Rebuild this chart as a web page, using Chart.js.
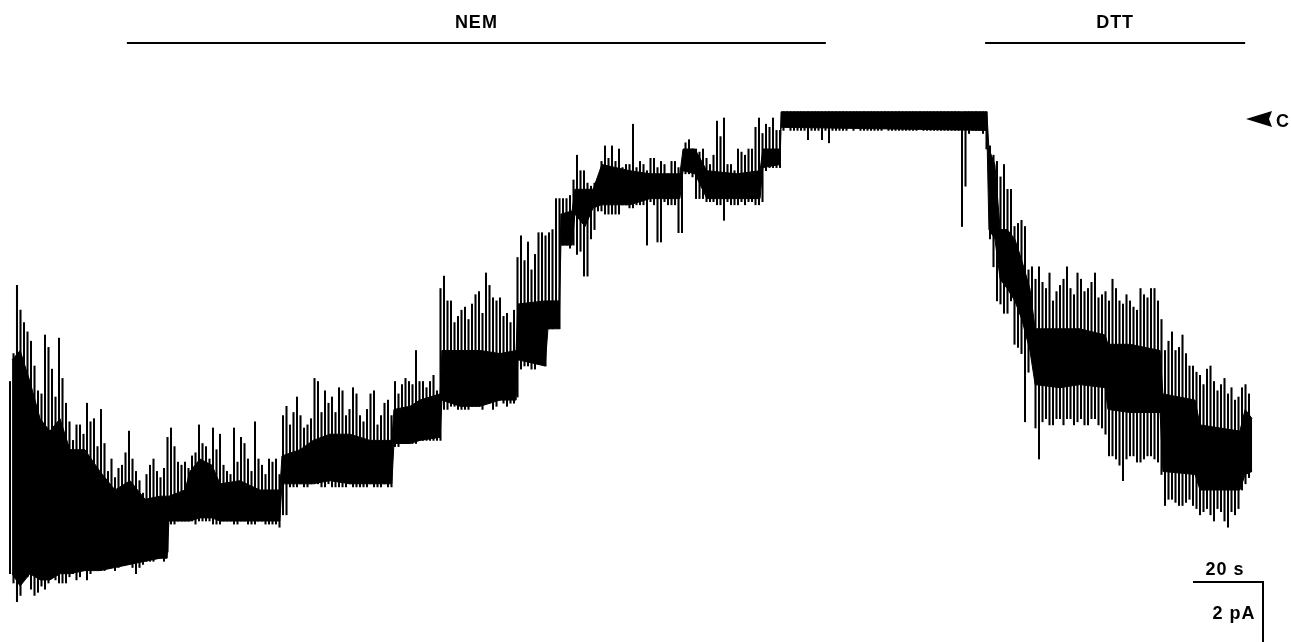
<!DOCTYPE html>
<html>
<head>
<meta charset="utf-8">
<script src="https://cdn.jsdelivr.net/npm/chart.js@4.4.0/dist/chart.umd.min.js"></script>
<style>
  html, body { margin: 0; padding: 0; background: #fff; }
  #wrap { width: 1291px; height: 642px; position: relative; }
</style>
</head>
<body>
<div id="wrap"><canvas id="myChart"></canvas></div>
<script>
// envelope of the current trace, one sample per second (pA, closed level = 0)
const sampleStep = 1;
const traceHigh = [
  -8.5, -7.6, -5.4, -6.2, -6.6, -6.9, -7.2, -8.0, -8.8, -8.9,
  -7.0, -7.4, -8.1, -9.0, -7.1, -8.4, -9.2, -9.8, -10.4, -9.9,
  -9.9, -10.2, -9.2, -9.8, -9.7, -10.6, -9.4, -10.5, -11.4, -11.0,
  -11.6, -11.3, -11.2, -10.8, -10.1, -11.0, -11.4, -11.7, -12.1, -11.5,
  -11.2, -11.0, -11.4, -11.6, -11.3, -10.3, -10.0, -10.6, -11.1, -11.2,
  -11.1, -11.3, -10.9, -10.8, -9.9, -10.5, -10.6, -11.0, -10.0, -10.7,
  -10.2, -11.2, -11.4, -11.5, -10.0, -11.1, -10.3, -10.5, -11.0, -11.4,
  -9.8, -11.0, -11.2, -11.5, -11.0, -11.1, -11.0, -11.5, -9.6, -9.3,
  -9.9, -9.5, -9.0, -9.6, -10.0, -9.9, -9.7, -8.4, -8.5, -9.5,
  -8.8, -9.2, -9.0, -9.5, -8.7, -8.8, -9.6, -9.4, -8.7, -8.9,
  -9.6, -9.8, -9.4, -8.9, -8.8, -9.9, -9.6, -9.2, -9.1, -9.6,
  -8.5, -8.9, -8.6, -8.4, -8.5, -8.6, -7.5, -8.5, -8.5, -8.7,
  -8.5, -8.3, -8.8, -5.5, -5.1, -5.9, -5.9, -6.6, -6.4, -6.2,
  -6.1, -6.5, -6.0, -5.7, -5.6, -6.3, -5.0, -5.4, -5.8, -5.9,
  -5.8, -6.4, -6.3, -6.6, -6.2, -4.5, -3.8, -4.6, -4.0, -4.9,
  -4.4, -3.7, -3.7, -3.8, -3.7, -3.6, -2.6, -2.6, -2.6, -2.6,
  -2.5, -2.0, -1.2, -1.7, -1.7, -2.1, -2.2, -2.1, -2.2, -1.4,
  -0.9, -1.3, -0.9, -1.4, -1.0, -1.6, -1.5, -1.5, -0.2, -1.6,
  -1.4, -1.5, -1.7, -1.3, -1.3, -1.6, -1.4, -1.5, -1.8, -1.4,
  -1.4, -1.6, -1.5, -0.8, -0.7, -1.0, -1.0, -1.1, -1.0, -1.3,
  -1.5, -1.2, -0.1, -0.6, 0.0, -1.5, -1.5, -1.7, -1.0, -1.1,
  -1.2, -1.0, -1.0, -0.3, 0.0, -0.5, -0.2, -0.3, 0.0, -0.4,
  -0.4, 0.2, 0.2, 0.2, 0.2, 0.2, 0.2, 0.2, 0.2, 0.2,
  0.2, 0.2, 0.2, 0.2, 0.2, 0.2, 0.2, 0.2, 0.2, 0.2,
  0.2, 0.2, 0.2, 0.2, 0.2, 0.2, 0.2, 0.2, 0.2, 0.2,
  0.2, 0.2, 0.2, 0.2, 0.2, 0.2, 0.2, 0.2, 0.2, 0.2,
  0.2, 0.2, 0.2, 0.2, 0.2, 0.2, 0.2, 0.2, 0.2, 0.2,
  0.2, 0.2, 0.1, 0.2, 0.2, 0.2, 0.2, 0.2, 0.2, 0.2,
  -0.9, -1.2, -1.4, -1.9, -1.5, -2.3, -2.3, -3.5, -3.4, -3.3,
  -3.5, -4.9, -4.8, -5.2, -4.8, -5.3, -5.5, -5.0, -5.9, -5.6,
  -5.4, -5.2, -4.8, -5.5, -5.7, -5.0, -5.2, -5.6, -5.5, -5.3,
  -5.0, -5.8, -5.7, -5.6, -5.9, -5.2, -5.5, -5.9, -6.0, -5.7,
  -5.9, -6.1, -6.2, -5.5, -5.7, -5.8, -5.5, -5.5, -5.9, -6.5,
  -7.5, -7.2, -6.9, -7.5, -7.4, -7.0, -7.6, -8.0, -8.0, -8.2,
  -8.3, -8.6, -8.1, -8.0, -8.5, -8.8, -8.6, -8.4, -8.9, -8.7,
  -9.1, -9.0, -8.7, -8.6, -8.9
];
const traceLow = [
  -14.7, -15.0, -15.6, -15.4, -14.3, -14.8, -15.2, -15.4, -15.3, -15.1,
  -15.2, -15.0, -14.7, -14.9, -15.0, -15.0, -15.0, -14.8, -14.7, -14.9,
  -14.8, -14.6, -14.9, -14.7, -14.4, -14.5, -14.6, -14.6, -14.3, -14.4,
  -14.6, -14.5, -14.4, -14.3, -14.3, -14.5, -14.7, -14.5, -14.4, -14.3,
  -14.3, -14.3, -14.2, -14.2, -14.3, -14.0, -13.1, -13.1, -13.0, -13.0,
  -13.0, -13.0, -13.0, -13.1, -13.0, -13.0, -13.0, -13.0, -13.1, -13.1,
  -13.1, -13.0, -13.0, -13.0, -13.1, -13.1, -13.0, -13.0, -13.1, -13.1,
  -13.1, -13.0, -13.0, -13.1, -13.1, -13.1, -13.1, -13.2, -12.8, -12.8,
  -11.9, -11.9, -11.9, -11.8, -11.9, -11.9, -11.8, -11.8, -11.8, -11.9,
  -11.9, -11.8, -11.9, -11.9, -11.9, -11.9, -11.9, -11.8, -11.9, -11.9,
  -11.9, -11.9, -11.9, -11.8, -11.9, -11.9, -11.9, -11.8, -11.9, -11.9,
  -10.6, -10.6, -10.5, -10.5, -10.5, -10.5, -10.5, -10.4, -10.4, -10.4,
  -10.4, -10.4, -10.4, -10.4, -9.4, -9.4, -9.3, -9.3, -9.4, -9.4,
  -9.4, -9.4, -9.3, -9.3, -9.3, -9.4, -9.1, -9.2, -9.4, -9.3,
  -9.1, -9.2, -9.3, -9.2, -9.2, -9.0, -8.1, -8.0, -8.0, -8.1,
  -8.1, -7.9, -7.8, -8.0, -6.8, -6.8, -5.9, -6.8, -4.1, -4.1,
  -4.2, -4.1, -4.4, -4.3, -5.1, -5.1, -3.9, -3.6, -3.0, -3.0,
  -3.1, -3.1, -3.1, -3.1, -3.1, -2.8, -2.8, -2.9, -2.9, -2.8,
  -2.8, -2.8, -4.1, -2.7, -2.8, -4.0, -4.0, -2.7, -2.8, -2.8,
  -2.8, -3.7, -3.7, -1.8, -1.8, -1.9, -2.6, -2.6, -2.6, -2.7,
  -2.7, -2.7, -2.8, -2.8, -3.3, -2.7, -2.8, -2.8, -2.8, -2.7,
  -2.8, -2.7, -2.7, -2.8, -2.8, -2.7, -1.7, -1.6, -1.6, -1.6,
  -1.6, -0.4, -0.3, -0.4, -0.4, -0.4, -0.4, -0.4, -0.7, -0.4,
  -0.4, -0.4, -0.7, -0.4, -0.8, -0.4, -0.4, -0.4, -0.4, -0.4,
  -0.3, -0.4, -0.3, -0.4, -0.4, -0.4, -0.4, -0.4, -0.4, -0.4,
  -0.3, -0.4, -0.4, -0.4, -0.4, -0.4, -0.4, -0.4, -0.4, -0.4,
  -0.3, -0.4, -0.4, -0.4, -0.4, -0.4, -0.4, -0.4, -0.4, -0.4,
  -0.4, -0.4, -3.5, -2.2, -0.5, -0.4, -0.4, -0.4, -0.5, -1.0,
  -3.9, -4.8, -5.9, -6.0, -6.3, -6.3, -5.9, -7.3, -7.4, -7.6,
  -9.8, -8.2, -7.6, -10.0, -11.0, -9.8, -9.7, -9.9, -9.9, -9.7,
  -9.7, -9.9, -9.7, -9.7, -9.9, -9.8, -9.7, -9.9, -9.9, -9.7,
  -9.7, -9.9, -10.0, -10.2, -10.9, -10.9, -11.0, -11.2, -11.7, -11.0,
  -10.9, -10.9, -11.1, -11.1, -11.0, -10.9, -10.9, -11.0, -11.1, -11.5,
  -12.5, -12.3, -12.3, -12.4, -12.5, -12.5, -12.4, -12.3, -12.5, -12.6,
  -12.8, -12.7, -12.6, -12.8, -13.0, -12.6, -12.7, -13.0, -13.2, -12.7,
  -12.8, -12.6, -12.0, -11.8, -11.6
];

// dense flicker band of the trace (s, pA)
const coreTime = [
  0.6, 2.9, 5.7, 8.6, 11.4, 14.3, 17.1, 21.4, 25.7, 30,
  34.3, 38.6, 42.9, 44.9, 45.4, 50, 51.4, 54.3, 57.7, 60,
  65.7, 71.4, 77.1, 77.7, 82.9, 86.6, 91.4, 97.1, 102.9, 109.1,
  109.7, 114.3, 117.1, 122.9, 123.4, 128.6, 134.3, 140, 144.6, 145.1,
  152.9, 153.7, 156.9, 157.4, 160.6, 161.4, 164.3, 166.6, 169.1, 177.1,
  182.9, 191.4, 192.3, 195.7, 199.1, 207.7, 214.3, 215.1, 220, 220.3,
  279.1, 279.7, 281.4, 282.9, 284.9, 287.1, 289.1, 291.4, 292.9, 300,
  305.7, 312.9, 313.7, 320, 328.6, 329.4, 338.6, 340, 351.4, 352.9,
  354.9
];
const coreTop = [
  -7.8, -7.5, -8.5, -9.7, -10.1, -9.7, -10.7, -10.7, -11.4, -12.0,
  -11.7, -12.3, -12.2, -12.2, -12.2, -12.0, -11.4, -11.0, -11.2, -11.8,
  -11.7, -12.0, -12.0, -10.9, -10.7, -10.4, -10.2, -10.2, -10.4, -10.4,
  -9.4, -9.3, -9.1, -8.9, -7.5, -7.5, -7.5, -7.6, -7.5, -6.0,
  -5.9, -5.9, -5.9, -3.1, -3.0, -2.3, -2.3, -2.3, -1.5, -1.7,
  -1.8, -1.8, -1.0, -1.0, -1.7, -1.8, -1.7, -1.0, -1.0, 0.2,
  0.2, -1.0, -1.5, -3.6, -3.6, -3.9, -4.6, -5.5, -6.8, -6.8,
  -6.8, -7.0, -7.3, -7.3, -7.5, -8.9, -9.1, -9.9, -10.1, -9.4,
  -9.7
];
const coreBottom = [
  -14.7, -15.1, -14.7, -14.9, -14.9, -14.7, -14.7, -14.6, -14.6, -14.5,
  -14.4, -14.3, -14.2, -14.2, -13.0, -13.0, -13.0, -12.9, -12.9, -13.0,
  -13.0, -13.0, -13.0, -11.8, -11.8, -11.8, -11.7, -11.8, -11.8, -11.8,
  -10.5, -10.5, -10.4, -10.3, -9.1, -9.3, -9.3, -9.1, -9.1, -7.8,
  -8.0, -6.8, -6.8, -4.1, -4.1, -3.1, -3.5, -2.9, -2.8, -2.8,
  -2.6, -2.6, -1.7, -1.8, -2.6, -2.6, -2.6, -1.6, -1.5, -0.3,
  -0.4, -3.6, -3.9, -5.2, -5.5, -5.9, -6.5, -7.5, -8.6, -8.7,
  -8.6, -8.7, -9.4, -9.5, -9.5, -11.4, -11.5, -12.0, -12.0, -11.5,
  -11.4
];

// drug applications (s)
const drugNames = ['NEM', 'DTT'];
const drugStart = [33.4, 278.6];
const drugEnd = [233.1, 352.9];

// scale bars
const scaleTime = 20;   // s
const scaleCurrent = 2; // pA

const envelope = traceHigh.map((v, i) => ({ x: i * sampleStep, y: [traceLow[i], v] }));
const topLine = coreTime.map((t, i) => ({ x: t, y: coreTop[i] }));
const bottomLine = coreTime.map((t, i) => ({ x: t, y: coreBottom[i] }));

const FONT = 'bold 18px "Liberation Sans", Arial, Helvetica, sans-serif';

// labels, bars, closed-level marker, scale bar
const annotations = {
  id: 'annotations',
  afterDraw(chart) {
    const ctx = chart.ctx;
    const xs = chart.scales.x, ys = chart.scales.y;
    ctx.save();
    ctx.fillStyle = '#000';
    ctx.strokeStyle = '#000';
    ctx.font = FONT;
    ctx.lineWidth = 2;
    ctx.textAlign = 'center';
    ctx.textBaseline = 'alphabetic';
    if ('letterSpacing' in ctx) ctx.letterSpacing = '1px';

    drugNames.forEach((name, i) => {
      const x0 = xs.getPixelForValue(drugStart[i]);
      const x1 = xs.getPixelForValue(drugEnd[i]);
      ctx.beginPath();
      ctx.moveTo(x0, 43);
      ctx.lineTo(x1, 43);
      ctx.stroke();
      ctx.fillText(name, (x0 + x1) / 2, 28);
    });

    // closed level arrow "C"
    const yc = ys.getPixelForValue(0) + 1;
    ctx.beginPath();
    ctx.moveTo(1246, yc);
    ctx.lineTo(1272, yc - 8);
    ctx.lineTo(1269, yc);
    ctx.lineTo(1272, yc + 8);
    ctx.closePath();
    ctx.fill();
    ctx.textAlign = 'left';
    ctx.fillText('C', 1276, yc + 8);

    // 20 s / 2 pA
    const xr = 1263, yt = 582;
    const w = xs.getPixelForValue(scaleTime) - xs.getPixelForValue(0);
    const h = ys.getPixelForValue(-scaleCurrent) - ys.getPixelForValue(0);
    ctx.beginPath();
    ctx.moveTo(xr - w, yt);
    ctx.lineTo(xr, yt);
    ctx.lineTo(xr, yt + h);
    ctx.stroke();
    ctx.textAlign = 'center';
    ctx.fillText(scaleTime + ' s', 1225, 575);
    ctx.fillText(scaleCurrent + ' pA', 1234, 619);
    ctx.restore();
  }
};

const config = {
  type: 'bar',
  data: {
    datasets: [
      {
        type: 'line',
        data: topLine,
        borderColor: '#000',
        backgroundColor: '#000',
        borderWidth: 1,
        pointRadius: 0,
        tension: 0,
        fill: '+1'
      },
      {
        type: 'line',
        data: bottomLine,
        borderColor: '#000',
        borderWidth: 1,
        pointRadius: 0,
        tension: 0,
        fill: false
      },
      {
        type: 'bar',
        data: envelope,
        backgroundColor: '#000',
        borderWidth: 0,
        barThickness: 1.4
      }
    ]
  },
  options: {
    responsive: true,
    maintainAspectRatio: false,
    animation: false,
    layout: { padding: 0 },
    plugins: { legend: { display: false }, tooltip: { enabled: false } },
    scales: {
      x: { type: 'linear', min: -10 / 3.5, max: 1281 / 3.5, display: false, offset: false },
      y: { min: -524 / 31, max: 118 / 31, display: false }
    }
  },
  plugins: [annotations]
};

const myChart = new Chart(document.getElementById('myChart'), config);
</script>
</body>
</html>
